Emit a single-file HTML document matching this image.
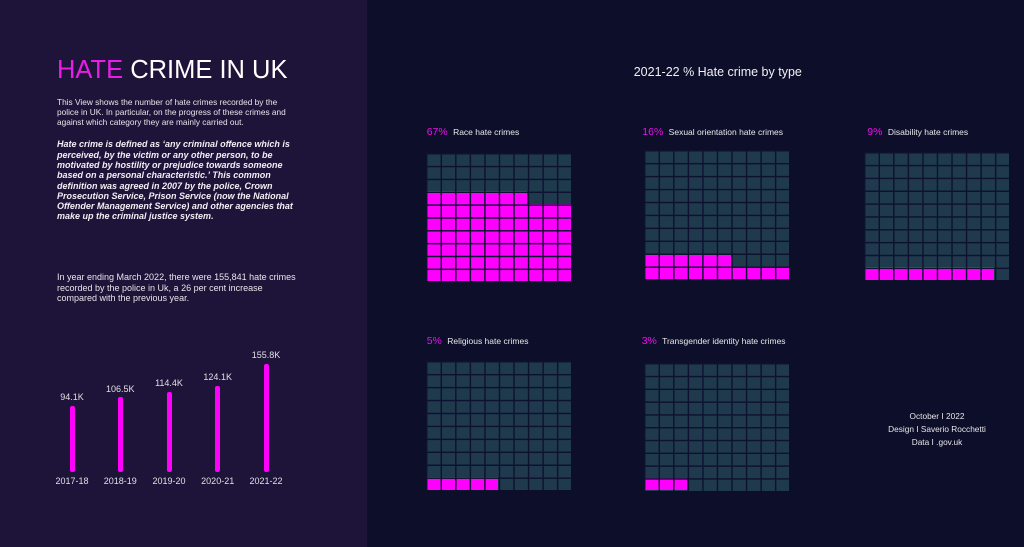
<!DOCTYPE html>
<html><head><meta charset="utf-8">
<style>
*{margin:0;padding:0;box-sizing:border-box}
body{width:1024px;height:547px;overflow:hidden;background:#0d0e29;font-family:"Liberation Sans",Arial,sans-serif;position:relative;color:#e6e6ea}
.left{position:absolute;left:0;top:0;width:367px;height:547px;background:#1e1338}
.abs{position:absolute;white-space:nowrap}
.bar{position:absolute;width:5px;background:#ff00ff;border-radius:2px}
.val{position:absolute;width:60px;text-align:center;font-size:9px;line-height:10px;color:#e0e0e6}
.yr{position:absolute;width:60px;text-align:center;font-size:9px;line-height:10px;color:#e0e0e6;top:475.7px}
.g{position:absolute;background:#1f3a4d;overflow:hidden}
.g .p{position:absolute;background:#ff00ff}
.g .o{position:absolute;left:0;top:0;right:0;bottom:0;background-image:linear-gradient(to right,#0e1230 1.5px,transparent 1.5px),linear-gradient(to bottom,#0e1230 1.5px,transparent 1.5px)}
.lab{position:absolute;white-space:nowrap;line-height:14px;font-size:8.5px;color:#e8e8ee}
.lab b{font-weight:normal;color:#ee10ee;font-size:10.5px;margin-right:3px}
</style></head><body>
<div class="left"></div>

<div class="abs" style="left:57px;top:57.5px;font-size:25.5px;line-height:25px;color:#fff"><span style="color:#e81ee8">HATE</span> CRIME IN UK</div>

<div class="abs" style="left:57px;top:97.3px;font-size:8.3px;line-height:10px;color:#e6e6ea">This View shows the number of hate crimes recorded by the<br>police in UK. In particular, on the progress of these crimes and<br>against which category they are mainly carried out.</div>

<div class="abs" style="left:57px;top:139.2px;font-size:9px;line-height:10.33px;font-weight:bold;font-style:italic;color:#f0f0f4">Hate crime is defined as ‘any criminal offence which is<br>perceived, by the victim or any other person, to be<br>motivated by hostility or prejudice towards someone<br>based on a personal characteristic.’ This common<br>definition was agreed in 2007 by the police, Crown<br>Prosecution Service, Prison Service (now the National<br>Offender Management Service) and other agencies that<br>make up the criminal justice system.</div>

<div class="abs" style="left:57px;top:271.9px;font-size:9px;line-height:10.8px;color:#e6e6ea">In year ending March 2022, there were 155,841 hate crimes<br>recorded by the police in Uk, a 26 per cent increase<br>compared with the previous year.</div>

<!-- bars -->
<div class="bar" style="left:69.5px;top:405.7px;height:66px"></div>
<div class="bar" style="left:117.8px;top:397.3px;height:74.4px"></div>
<div class="bar" style="left:166.5px;top:392.3px;height:79.4px"></div>
<div class="bar" style="left:215.2px;top:385.7px;height:86px"></div>
<div class="bar" style="left:263.5px;top:364.3px;height:107.4px"></div>

<div class="val" style="left:42px;top:391.7px">94.1K</div>
<div class="val" style="left:90.3px;top:384px">106.5K</div>
<div class="val" style="left:139px;top:378px">114.4K</div>
<div class="val" style="left:187.7px;top:371.7px">124.1K</div>
<div class="val" style="left:236px;top:350px">155.8K</div>

<div class="yr" style="left:42px">2017-18</div>
<div class="yr" style="left:90.3px">2018-19</div>
<div class="yr" style="left:139px">2019-20</div>
<div class="yr" style="left:187.7px">2020-21</div>
<div class="yr" style="left:236px">2021-22</div>

<!-- right title -->
<div class="abs" style="left:617.8px;width:200px;text-align:center;top:63.7px;font-size:12.5px;line-height:16px;color:#f0f0f4">2021-22 % Hate crime by type</div>

<!-- labels -->
<div class="lab" style="left:426.7px;top:125.3px"><b>67%</b> Race hate crimes</div>
<div class="lab" style="left:642.3px;top:125.3px"><b>16%</b> Sexual orientation hate crimes</div>
<div class="lab" style="left:867.3px;top:125.3px"><b>9%</b> Disability hate crimes</div>
<div class="lab" style="left:426.7px;top:333.7px"><b>5%</b> Religious hate crimes</div>
<div class="lab" style="left:641.7px;top:333.7px"><b>3%</b> Transgender identity hate crimes</div>

<!-- Race 67 -->
<div class="g" style="left:425.5px;top:152.5px;width:145.5px;height:128.5px">
 <div class="p" style="left:0;top:51.4px;width:145.5px;height:77.1px"></div>
 <div class="p" style="left:0;top:38.55px;width:101.85px;height:12.85px"></div>
 <div class="o" style="background-size:14.55px 12.85px"></div>
</div>
<!-- Sexual 16 -->
<div class="g" style="left:643.5px;top:150px;width:145.5px;height:129.5px">
 <div class="p" style="left:0;top:116.55px;width:145.5px;height:12.95px"></div>
 <div class="p" style="left:0;top:103.6px;width:87.3px;height:12.95px"></div>
 <div class="o" style="background-size:14.55px 12.95px"></div>
</div>
<!-- Disability 9 -->
<div class="g" style="left:863.5px;top:151.5px;width:145.5px;height:128.5px">
 <div class="p" style="left:0;top:115.65px;width:130.95px;height:12.85px"></div>
 <div class="o" style="background-size:14.55px 12.85px"></div>
</div>
<!-- Religious 5 -->
<div class="g" style="left:425.5px;top:360.5px;width:145.5px;height:129.5px">
 <div class="p" style="left:0;top:116.55px;width:72.75px;height:12.95px"></div>
 <div class="o" style="background-size:14.55px 12.95px"></div>
</div>
<!-- Transgender 3 -->
<div class="g" style="left:643.5px;top:362.5px;width:145.5px;height:128px">
 <div class="p" style="left:0;top:115.2px;width:43.65px;height:12.8px"></div>
 <div class="o" style="background-size:14.55px 12.8px"></div>
</div>

<!-- footer -->
<div class="abs" style="left:867px;width:140px;text-align:center;top:410.2px;font-size:8.3px;line-height:13px;color:#e6e6ea">October I 2022<br>Design I Saverio Rocchetti<br>Data I .gov.uk</div>

</body></html>
